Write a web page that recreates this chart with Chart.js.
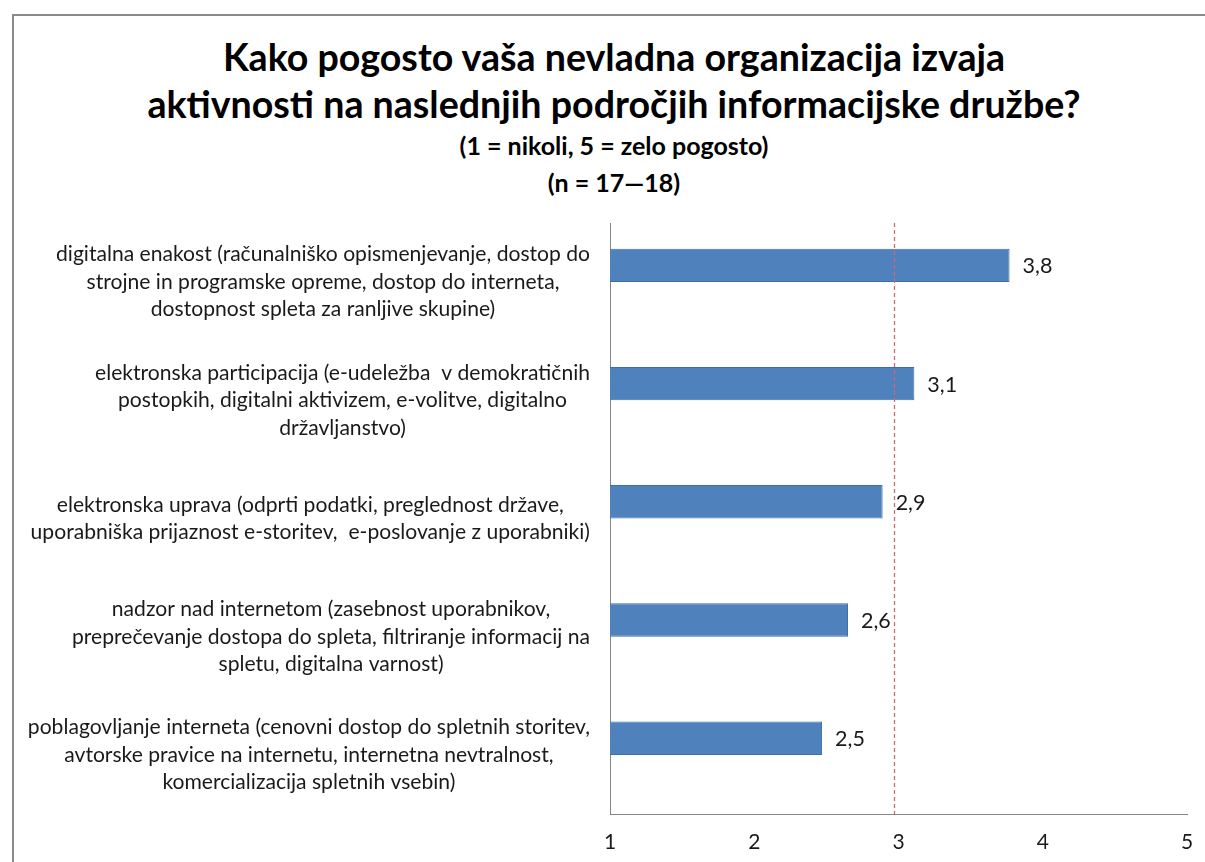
<!DOCTYPE html>
<html>
<head>
<meta charset="utf-8">
<script src="https://cdn.jsdelivr.net/npm/chart.js@4.4.1/dist/chart.umd.min.js"></script>
<style>
  html, body { margin: 0; padding: 0; background: #fff; overflow: hidden; }
  #wrap { position: relative; width: 1205px; height: 862px; }
  #frame { position: absolute; left: 12px; top: 14px; width: 1400px; height: 1000px; border: 2px solid #8a8a8a; }
  canvas { position: absolute; left: 0; top: 0; }
  .t { position: absolute; left: 0; width: 1228px; text-align: center; font-family: Lato, sans-serif; font-weight: bold; color: #000; white-space: nowrap; line-height: 1; }
  .big { font-size: 37.6px; }
  .small { font-size: 25px; }
</style>
</head>
<body>
<div id="wrap">
  <div id="frame"></div>
  <div class="t big" style="top:38px">Kako pogosto vaša nevladna organizacija izvaja</div>
  <div class="t big" style="top:85px">aktivnosti na naslednjih področjih informacijske družbe?</div>
  <div class="t small" style="top:133px">(1 = nikoli, 5 = zelo pogosto)</div>
  <div class="t small" style="top:170px">(n = 17—18)</div>
  <canvas id="myChart" width="1205" height="862"></canvas>
</div>
<script>
// podatki
const categories = [
  ['digitalna enakost (računalniško opismenjevanje, dostop do', 'strojne in programske opreme, dostop do interneta,', 'dostopnost spleta za ranljive skupine)'],
  ['elektronska participacija (e-udeležba  v demokratičnih', 'postopkih, digitalni aktivizem, e-volitve, digitalno', 'državljanstvo)'],
  ['elektronska uprava (odprti podatki, preglednost države,', 'uporabniška prijaznost e-storitev,  e-poslovanje z uporabniki)'],
  ['nadzor nad internetom (zasebnost uporabnikov,', 'preprečevanje dostopa do spleta, filtriranje informacij na', 'spletu, digitalna varnost)'],
  ['poblagovljanje interneta (cenovni dostop do spletnih storitev,', 'avtorske pravice na internetu, internetna nevtralnost,', 'komercializacija spletnih vsebin)']
];
const values = [3.77, 3.11, 2.89, 2.65, 2.47];
const emptySeries = [null, null, null, null, null]; // prazna serija, kot v izvirniku
const meanValue = 2.97;
const xMin = 1, xMax = 5, xStep = 1;

const FONT = 'Lato, sans-serif';
const TEXT = '#1a1a1a';

// črtkana navpična črta (povprečje)
const meanLine = {
  id: 'meanLine',
  afterDatasetsDraw(chart) {
    const { ctx, chartArea, scales } = chart;
    const x = Math.round(scales.x.getPixelForValue(meanValue)) + 0.5;
    ctx.save();
    ctx.strokeStyle = '#d2696a';
    ctx.lineWidth = 1.3;
    ctx.setLineDash([4, 3]);
    ctx.beginPath();
    ctx.moveTo(x, chartArea.top);
    ctx.lineTo(x, chartArea.bottom);
    ctx.stroke();
    ctx.restore();
  }
};

// vrednosti ob stolpcih (3,8 ...)
const valueLabels = {
  id: 'valueLabels',
  afterDatasetsDraw(chart) {
    const { ctx } = chart;
    const meta = chart.getDatasetMeta(0);
    ctx.save();
    ctx.font = '21.5px ' + FONT;
    ctx.fillStyle = TEXT;
    ctx.textAlign = 'left';
    ctx.textBaseline = 'middle';
    meta.data.forEach((bar, i) => {
      ctx.fillText(values[i].toFixed(1).replace('.', ','), bar.x + 13, bar.y + 1);
    });
    ctx.restore();
  }
};

// oznake kategorij: blok desno poravnan, vrstice sredinsko
const categoryLabels = {
  id: 'categoryLabels',
  afterDraw(chart) {
    const { ctx, scales } = chart;
    const lineH = 27.5;
    const right = scales.y.right - 20;
    ctx.save();
    ctx.font = '21.1px ' + FONT;
    ctx.fillStyle = TEXT;
    ctx.textAlign = 'center';
    ctx.textBaseline = 'middle';
    categories.forEach((lines, i) => {
      const yc = scales.y.getPixelForValue(i);
      const w = Math.max(...lines.map(l => ctx.measureText(l).width));
      const cx = right - w / 2;
      const y0 = yc - (lines.length - 1) * lineH / 2;
      lines.forEach((l, k) => ctx.fillText(l, cx, y0 + k * lineH));
    });
    ctx.restore();
  }
};

new Chart(document.getElementById('myChart'), {
  type: 'bar',
  data: {
    labels: categories,
    datasets: [
      {
        data: values,
        backgroundColor: '#4F81BD',
        borderColor: '#3d6ea8',
        borderWidth: 1,
        categoryPercentage: 0.565,
        barPercentage: 1.0
      },
      {
        data: emptySeries,
        backgroundColor: '#C0504D',
        categoryPercentage: 0.565,
        barPercentage: 1.0
      }
    ]
  },
  options: {
    indexAxis: 'y',
    responsive: false,
    animation: false,
    layout: { padding: { top: 223, right: 18, bottom: 0, left: 0 } },
    plugins: {
      legend: { display: false },
      tooltip: { enabled: false },
      title: { display: false }
    },
    scales: {
      x: {
        type: 'linear',
        min: xMin,
        max: xMax,
        ticks: { stepSize: xStep, padding: 0, color: TEXT, font: { family: FONT, size: 21 } },
        grid: { display: false, drawTicks: true, tickLength: 16 },
        border: { display: true, color: '#868686', width: 1 },
        afterFit(scale) { scale.height = 48; }
      },
      y: {
        ticks: { display: false },
        grid: { display: false, drawTicks: false },
        border: { display: true, color: '#868686', width: 1 },
        afterFit(scale) { scale.width = 610; }
      }
    }
  },
  plugins: [meanLine, valueLabels, categoryLabels]
});
</script>
</body>
</html>
